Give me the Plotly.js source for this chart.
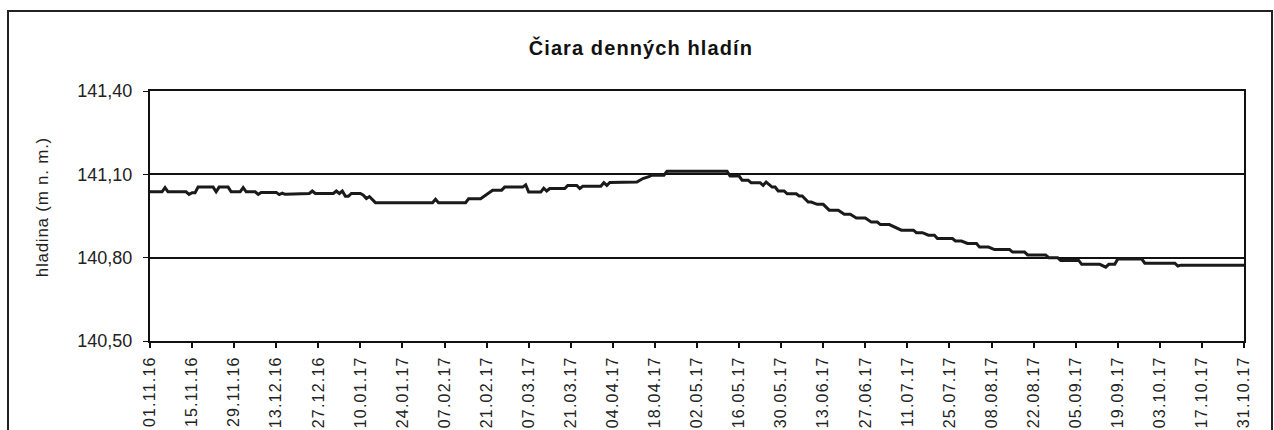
<!DOCTYPE html>
<html><head><meta charset="utf-8">
<script src="https://cdn.plot.ly/plotly-3.0.1.min.js"></script>
<style>
html,body{margin:0;padding:0;background:#fff;overflow:hidden}
#chart{width:1274px;height:430px}
#frame{position:absolute;left:7px;top:10px;width:1266px;height:470px;border:2px solid #222;box-sizing:border-box;pointer-events:none}
.xtick text{letter-spacing:1.2px}
.gtitle{letter-spacing:1.1px}
.annotation-text{letter-spacing:0.75px}
</style></head><body>
<div id="chart"></div><div id="frame"></div>
<script>
const startDate = '2016-11-01';
const chartTitle = 'Čiara denných hladín';
const yTitle = 'hladina (m n. m.)';

// day offset from 01.11.16 and water level (m n. m.)
const dayOffsets = [0,4,5,6,12,13,14,15,16,21,22,23,26,27,30,31,32,35,36,37,42,43,44,45,
  53,54,55,61,62,63,64,65,66,67,70,71,72,73,75,94,95,96,105,106,110,111,112,113,114,117,118,
  124,125,126,130,131,132,133,138,139,142,143,144,150,151,152,153,162,164,166,167,171,172,192,
  193,196,197,199,200,203,204,205,206,207,208,209,211,212,215,216,217,218,219,220,222,224,225,226,
  229,230,231,233,234,235,238,239,240,242,243,246,248,250,254,255,257,259,261,262,267,268,270,
  272,275,276,279,281,286,287,291,292,298,299,302,303,309,310,316,317,318,319,321,322,330,331,
  341,342,343,364];
const levels = [141.037,141.037,141.052,141.037,141.037,141.028,141.034,141.034,141.054,141.054,141.037,141.054,141.054,141.037,141.037,141.052,141.037,141.037,141.028,141.035,141.035,141.027,141.032,141.028,
  141.031,141.040,141.031,141.031,141.040,141.031,141.040,141.021,141.021,141.031,141.031,141.025,141.013,141.020,140.998,140.998,141.010,140.998,140.998,141.012,141.012,141.020,141.028,141.036,141.043,141.043,141.054,
  141.054,141.062,141.036,141.036,141.050,141.040,141.049,141.049,141.060,141.060,141.049,141.057,141.057,141.070,141.060,141.071,141.072,141.085,141.092,141.097,141.097,141.111,141.111,
  141.094,141.094,141.079,141.079,141.070,141.070,141.060,141.072,141.063,141.054,141.054,141.040,141.040,141.030,141.030,141.022,141.022,141.010,141.000,141.000,140.992,140.992,140.980,140.971,
  140.971,140.963,140.956,140.956,140.950,140.943,140.943,140.935,140.928,140.928,140.919,140.919,140.908,140.899,140.899,140.890,140.890,140.881,140.881,140.869,140.869,140.860,140.860,
  140.851,140.851,140.838,140.838,140.829,140.829,140.820,140.820,140.810,140.810,140.800,140.800,140.790,140.790,140.776,140.776,140.770,140.766,140.776,140.776,140.795,140.795,140.780,
  140.780,140.770,140.773,140.773];

const tickLabels = ['01.11.16','15.11.16','29.11.16','13.12.16','27.12.16','10.01.17','24.01.17','07.02.17',
  '21.02.17','07.03.17','21.03.17','04.04.17','18.04.17','02.05.17','16.05.17','30.05.17','13.06.17',
  '27.06.17','11.07.17','25.07.17','08.08.17','22.08.17','05.09.17','19.09.17','03.10.17','17.10.17','31.10.17'];
const yTicks = [140.5, 140.8, 141.1, 141.4];

function offsetToDate(d){
  const t = Date.UTC(2016,10,1) + d*86400000;
  return new Date(t).toISOString().slice(0,10);
}
function labelToDate(s){
  const p = s.split('.');
  return '20'+p[2]+'-'+p[1]+'-'+p[0];
}
const xDates = dayOffsets.map(offsetToDate);
const tickVals = tickLabels.map(labelToDate);

const FONT = 'Liberation Sans, Arial, sans-serif';
const trace = {
  x: xDates, y: levels, type:'scatter', mode:'lines',
  line:{color:'#1a1a1a', width:3}, hoverinfo:'x+y'
};
const layout = {
  width:1274, height:430,
  margin:{l:150, r:30, t:91, b:89, pad:0},
  paper_bgcolor:'#fff', plot_bgcolor:'#fff',
  separators:', ',
  showlegend:false,
  font:{family:FONT, color:'#222'},
  title:{text:chartTitle, x:0.503, xref:'container', xanchor:'center', y:0.888, yref:'container', yanchor:'middle',
    font:{family:FONT, size:20, weight:'bold', color:'#111'}},
  xaxis:{type:'date', range:[tickVals[0], tickVals[tickVals.length-1]],
    tickvals:tickVals, ticktext:tickLabels, tickangle:-90,
    ticks:'outside', ticklen:5, tickwidth:2, tickcolor:'#111',
    showgrid:false, zeroline:false, showline:true, linecolor:'#111', linewidth:2, mirror:true,
    tickfont:{family:FONT, size:16, color:'#222'}, automargin:false, ticklabelstandoff:2},
  yaxis:{range:[140.5, 141.4], tickvals:yTicks, tickformat:'.2f',
    ticks:'outside', ticklen:5, tickwidth:1, tickcolor:'#111',
    showgrid:true, gridcolor:'#111', gridwidth:2, zeroline:false,
    showline:true, linecolor:'#111', linewidth:2, mirror:true,
    tickfont:{family:FONT, size:18, color:'#222'}, automargin:false, ticklabelstandoff:7},
  annotations:[{text:yTitle, xref:'paper', yref:'paper', x:-0.0987, y:0.535, textangle:-90,
    showarrow:false, xanchor:'center', yanchor:'middle',
    font:{family:FONT, size:17, color:'#222'}}]
};
Plotly.newPlot('chart', [trace], layout, {staticPlot:true, displayModeBar:false});
</script>
</body></html>
